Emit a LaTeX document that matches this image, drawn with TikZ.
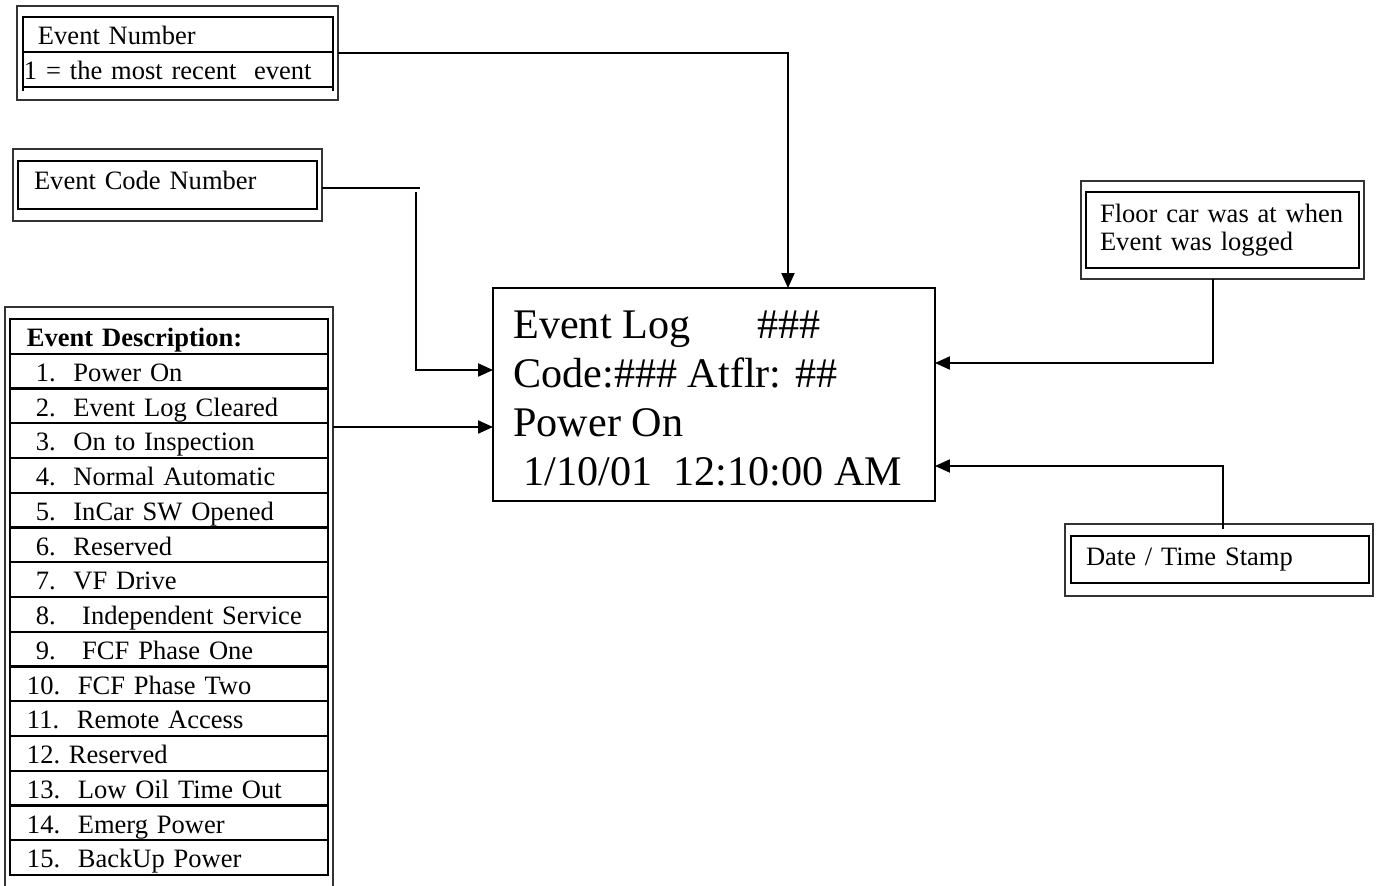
\documentclass[tikz,border=0pt]{standalone}
\usepackage{fontspec}
\setmainfont{Liberation Serif}
\usetikzlibrary{arrows.meta}

\tikzset{
    frame/.style={draw=black!80, line width=0.9pt, inner sep=0pt, outer sep=0pt},
    cell/.style={draw, line width=1.4pt, inner ysep=0pt, outer sep=0pt, align=left,
        font=\fontsize{15.1}{15.9}\selectfont},
    row/.style={cell, anchor=north west, minimum width=6.36cm, minimum height=0.695cm,
        inner xsep=0.34cm, text width=5.68cm, text height=0.55cm, text depth=0.138cm},
    bigtxt/.style={inner sep=0pt, font=\fontsize{24}{28}\selectfont},
    conn/.style={line width=1.1pt},
    arr/.style={conn, -{Triangle[length=0.3cm, width=0.26cm]}},
}

\begin{document}
\begin{tikzpicture}[x=0.02cm, y=-0.02cm]
    \useasboundingbox (0,0) rectangle (1380,886);

    \begin{scope}
        \node[frame, minimum width=6.42cm, minimum height=1.88cm] (enfr) at (177.5,53) {};
        \node[cell, anchor=north west, minimum width=6.2cm, minimum height=0.7cm, inner xsep=0.3cm,
            text width=5.6cm, text height=0.55cm, text depth=0.138cm] (en1) at (23,17) {Event Number};
        \node[cell, anchor=north west, minimum width=6.2cm, minimum height=0.7cm, inner xsep=0.02cm,
            text width=6.16cm, text height=0.55cm, text depth=0.138cm] (en2) at (23,52) {1 = the most recent\ \ event};
        \draw[line width=1.4pt] (en2.south west) -- ++(0,4) (en2.south east) -- ++(0,4);
    \end{scope}

    \begin{scope}
        \node[frame, minimum width=6.18cm, minimum height=1.44cm] (ecnfr) at (167.5,185) {};
        \node[cell, minimum width=5.98cm, minimum height=0.96cm, inner xsep=0.32cm, text width=5.34cm,
            text height=0.45cm, text depth=0.29cm] (ecn) at (167.5,185) {Event Code Number};
    \end{scope}

    \begin{scope}
        \draw[frame] (5,886) -- (5,307) -- (333,307) -- (333,886);
        \foreach \txt [count=\i from 0] in {{\textbf{Event Description:}}, \ 1.\ \ Power On,
            \ 2.\ \ Event Log Cleared, \ 3.\ \ On to Inspection, \ 4.\ \ Normal Automatic,
            \ 5.\ \ InCar SW Opened, \ 6.\ \ Reserved, \ 7.\ \ VF Drive,
            \ 8.\ \ \ Independent Service, \ 9.\ \ \ FCF Phase One, 10.\ \ FCF Phase Two,
            11.\ \ Remote Access, 12.\ Reserved, 13.\ \ Low Oil Time Out,
            14.\ \ Emerg Power, 15.\ \ BackUp Power}
            \node[row] (row\i) at (10,{319+34.75*\i}) {\txt};
    \end{scope}

    \begin{scope}
        \node[draw, line width=1.1pt, outer sep=0pt, minimum width=8.84cm, minimum height=4.26cm] (log) at (714,394.5) {};
        \foreach \txt [count=\i] in {Event Log\hspace{1.34cm}\#\#\#, Code:\#\#\# Atflr: \#\#,
            Power On, \ 1/10/01\ \ 12:10:00 AM}
            \node[bigtxt, anchor=base west] (logline\i) at (513,{289+49*\i}) {\txt};
    \end{scope}

    \begin{scope}
        \node[frame, minimum width=5.66cm, minimum height=1.96cm] (floorfr) at (1222.5,230) {};
        \node[cell, minimum width=5.46cm, minimum height=1.52cm, inner xsep=0.28cm, text width=4.9cm]
            (floor) at (1222.5,230) {Floor car was at when\\Event was logged};
        \node[frame, minimum width=6.16cm, minimum height=1.44cm] (datefr) at (1219,560) {};
        \node[cell, minimum width=5.96cm, minimum height=0.94cm, inner xsep=0.3cm, text width=5.36cm,
            text height=0.45cm, text depth=0.23cm] (date) at (1220,559.5) {Date / Time Stamp};
    \end{scope}

    \coordinate (ecndrop) at (416,192);
    \coordinate (descout) at (333,427);
    \draw[arr] (enfr.east) -| ([xshift=1.48cm]log.north);
    \draw[conn] ([yshift=-0.06cm]ecnfr.east) -- ++(98,0) coordinate (ecnend);
    \draw[arr] (ecndrop) |- ([yshift=0.49cm]log.west);
    \draw[arr] (descout) -- (log.west |- descout);
    \draw[arr] ([xshift=-0.19cm]floorfr.south) |- ([yshift=0.63cm]log.east);
    \draw[arr] ([xshift=0.08cm, yshift=-0.1cm]datefr.north) |- ([yshift=-1.43cm]log.east);
\end{tikzpicture}
\end{document}
